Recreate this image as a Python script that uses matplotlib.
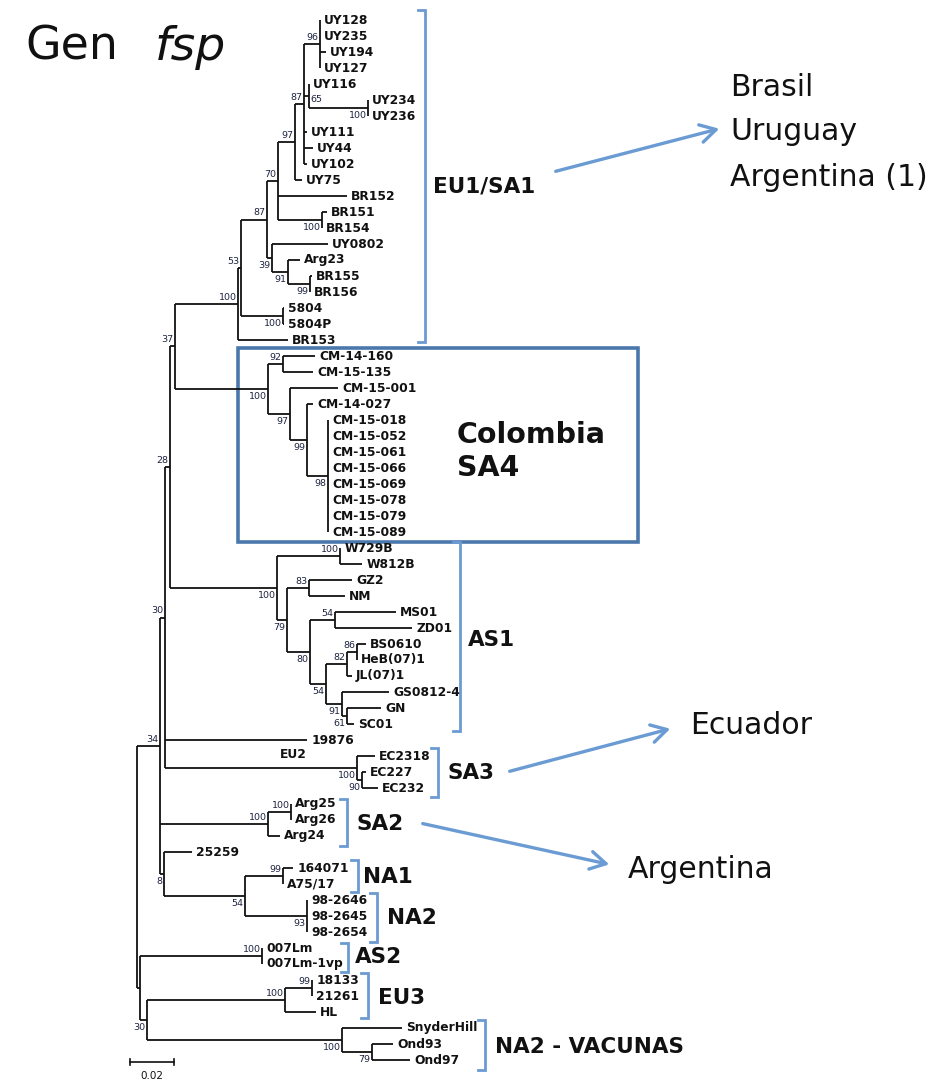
import matplotlib
matplotlib.use("Agg")
import matplotlib.pyplot as plt
from matplotlib.patches import Rectangle, FancyArrowPatch

# ---------------- data ----------------
# leaves, top to bottom; depth from root in 0.001 substitutions/site
leaf_names = ["UY128", "UY235", "UY194", "UY127", "UY116", "UY234", "UY236",
              "UY111", "UY44", "UY102", "UY75", "BR152", "BR151", "BR154",
              "UY0802", "Arg23", "BR155", "BR156", "5804", "5804P", "BR153",
              "CM-14-160", "CM-15-135", "CM-15-001", "CM-14-027",
              "CM-15-018", "CM-15-052", "CM-15-061", "CM-15-066", "CM-15-069",
              "CM-15-078", "CM-15-079", "CM-15-089",
              "W729B", "W812B", "GZ2", "NM", "MS01", "ZD01", "BS0610",
              "HeB(07)1", "JL(07)1", "GS0812-4", "GN", "SC01",
              "19876", "EC2318", "EC227", "EC232", "Arg25", "Arg26", "Arg24",
              "25259", "164071", "A75/17", "98-2646", "98-2645", "98-2654",
              "007Lm", "007Lm-1vp", "18133", "21261", "HL",
              "SnyderHill", "Ond93", "Ond97"]
leaf_depth = [83.2, 83.2, 85.9, 83.2, 78.2, 105.0, 105.0,
              77.3, 80.0, 77.3, 75.0, 95.5, 86.4, 84.1,
              86.8, 74.1, 79.5, 78.6, 66.8, 66.8, 68.6,
              80.9, 80.0, 91.4, 80.0,
              86.8, 86.8, 86.8, 86.8, 86.8, 86.8, 86.8, 86.8,
              92.3, 102.3, 97.7, 94.5, 117.7, 125.0, 104.1,
              100.0, 97.7, 114.5, 110.9, 98.6,
              77.3, 108.2, 104.1, 109.5, 70.0, 70.0, 65.0,
              25.0, 70.9, 66.4, 77.3, 77.3, 77.3,
              56.8, 56.8, 79.5, 79.5, 81.4,
              120.5, 116.4, 124.1]

# internal nodes (children listed before parents)
node_ids = ["n96", "n100a", "n65", "n87a", "n97", "n100b", "n70", "n99a", "n91a",
            "n39", "n87b", "n100c", "n53", "n100d", "n92", "n98", "n99b", "n97b",
            "n100e", "n37", "n100f", "n83", "n54a", "n86", "n82", "n61", "n91b",
            "n54b", "n80", "n79", "n100g", "n28", "n90", "n100h", "n30a",
            "n100i", "n100j", "n99c", "n93", "n54c", "n8", "n34", "n100k",
            "n99d", "n100l", "n79b", "n100m", "n30b", "nP", "root"]
node_depth = [83.2, 105.0, 78.2, 75.9, 71.8, 84.1, 64.1, 78.6, 68.6,
              61.4, 59.1, 66.4, 47.3, 45.9, 66.4, 86.8, 77.3, 69.5,
              59.5, 17.3, 92.3, 78.2, 90.0, 100.0, 95.5, 95.5, 93.2,
              85.9, 78.6, 68.2, 63.6, 15.0, 102.3, 100.0, 12.7,
              70.0, 59.5, 66.4, 77.3, 49.1, 12.3, 10.5, 56.8,
              79.5, 67.3, 106.8, 93.2, 4.5, 1.4, 0.0]
node_children = [
    ["UY128", "UY235", "UY194", "UY127"], ["UY234", "UY236"], ["UY116", "n100a"],
    ["n96", "n65", "UY111", "UY44", "UY102"], ["n87a", "UY75"], ["BR151", "BR154"],
    ["n97", "BR152", "n100b"], ["BR155", "BR156"], ["Arg23", "n99a"],
    ["UY0802", "n91a"], ["n70", "n39"], ["5804", "5804P"], ["n87b", "n100c"],
    ["n53", "BR153"], ["CM-14-160", "CM-15-135"],
    ["CM-15-018", "CM-15-052", "CM-15-061", "CM-15-066", "CM-15-069",
     "CM-15-078", "CM-15-079", "CM-15-089"],
    ["CM-14-027", "n98"], ["CM-15-001", "n99b"], ["n92", "n97b"],
    ["n100d", "n100e"], ["W729B", "W812B"], ["GZ2", "NM"], ["MS01", "ZD01"],
    ["BS0610", "HeB(07)1"], ["n86", "JL(07)1"], ["GN", "SC01"],
    ["GS0812-4", "n61"], ["n82", "n91b"], ["n54a", "n54b"], ["n83", "n80"],
    ["n100f", "n79"], ["n37", "n100g"], ["EC227", "EC232"], ["EC2318", "n90"],
    ["n28", "19876", "n100h"], ["Arg25", "Arg26"], ["n100i", "Arg24"],
    ["164071", "A75/17"], ["98-2646", "98-2645", "98-2654"], ["n99c", "n93"],
    ["25259", "n54c"], ["n30a", "n100j", "n8"], ["007Lm", "007Lm-1vp"],
    ["18133", "21261"], ["n99d", "HL"], ["Ond93", "Ond97"],
    ["SnyderHill", "n79b"], ["n100l", "n100m"], ["n100k", "n30b"],
    ["n34", "nP"]]
node_support = ["96", "100", "65", "87", "97", "100", "70", "99", "91",
                "39", "87", "100", "53", "100", "92", "98", "99", "97",
                "100", "37", "100", "83", "54", "86", "82", "61", "91",
                "54", "80", "79", "100", "28", "90", "100", "30",
                "100", "100", "99", "93", "54", "8", "34", "100",
                "99", "100", "79", "100", "30", "", ""]
# where each support value sits: a = above, b = below, r = right of node
support_side = ["a", "b", "r", "a", "a", "b", "a", "b", "b",
                "b", "a", "b", "a", "a", "a", "b", "b", "b",
                "b", "a", "a", "a", "a", "a", "a", "b", "b",
                "b", "b", "b", "b", "a", "b", "b", "a",
                "a", "a", "a", "b", "b", "b", "a", "a",
                "a", "a", "b", "b", "b", "", ""]

clade_labels = ["EU1/SA1", "AS1", "SA3", "SA2", "NA1", "NA2", "AS2", "EU3",
                "NA2 - VACUNAS"]
country_labels = ["Brasil", "Uruguay", "Argentina (1)", "Ecuador", "Argentina"]
scale_value = 20.0  # 0.02 substitutions/site

# ---------------- figure ----------------
W, H = 941, 1084
fig = plt.figure(figsize=(W / 100, H / 100), dpi=100)

ov = fig.add_axes([0, 0, 1, 1])
ov.set_xlim(0, W)
ov.set_ylim(H, 0)
ov.axis("off")

ax = fig.add_axes([0, 0, 1, 1])
ax.patch.set_alpha(0)
PX = 2.2  # pixels per 0.001 subst/site
ax.set_xlim(-137 / PX, (W - 137) / PX)
ax.set_ylim((H - 20) / 16, -20 / 16)
ax.axis("off")

LW = 1.3
LINE = "#111111"
pos = {n: (d, i) for i, (n, d) in enumerate(zip(leaf_names, leaf_depth))}
for nid, d, ch, bs, side in zip(node_ids, node_depth, node_children,
                                node_support, support_side):
    ys = [pos[c][1] for c in ch]
    y = (ys[0] + ys[-1]) / 2
    pos[nid] = (d, y)
    ax.plot([d, d], [ys[0], ys[-1]], color=LINE, lw=LW, solid_capstyle="butt")
    for c in ch:
        cx, cy = pos[c]
        if cx > d:
            ax.plot([d, cx], [cy, cy], color=LINE, lw=LW, solid_capstyle="butt")
    if bs:
        if side == "a":
            off, ha = (-1, 4.8), "right"
        elif side == "b":
            off, ha = (-1, -5.5), "right"
        else:
            off, ha = (1, -2.5), "left"
        ax.annotate(bs, (d, y), xytext=off, textcoords="offset points",
                    ha=ha, va="center", fontsize=6.8, color="#1c2340",
                    family="DejaVu Sans")

for n in leaf_names:
    x, y = pos[n]
    ax.annotate(n, (x, y), xytext=(3, 0), textcoords="offset points",
                ha="left", va="center", fontsize=8.8, fontweight="bold",
                color="#111111", family="DejaVu Sans")

# scale bar
sy = (1062 - 20) / 16
sx0 = -3.2
ax.plot([sx0, sx0 + scale_value], [sy, sy], color=LINE, lw=1.2)
for xx in (sx0, sx0 + scale_value):
    ax.plot([xx, xx], [sy - 0.2, sy + 0.2], color=LINE, lw=1.2)
ax.annotate("0.02", (sx0 + scale_value / 2, sy), xytext=(0, -10),
            textcoords="offset points", ha="center", va="center",
            fontsize=7.5, color="#111111")

# ---------------- annotations (pixel overlay) ----------------
ov.text(25, 60, "Gen", fontsize=33, family="DejaVu Sans", va="baseline",
        ha="left", color="#111111")
ov.text(155, 60, "fsp", fontsize=34, family="DejaVu Sans", style="italic",
        va="baseline", ha="left", color="#111111")

BR = "#6b9bd3"
brackets = [(425, 10, 342), (460, 542, 731), (438, 748, 797), (347, 799, 846),
            (358, 860, 892), (377, 893, 942), (348, 943, 972), (368, 973, 1018),
            (485, 1020, 1070)]
for x, y0, y1 in brackets:
    ov.plot([x - 7, x, x, x - 7], [y0, y0, y1, y1], color=BR, lw=2.0,
            solid_joinstyle="miter")

clade_pos = [(433, 187), (468, 640), (448, 773), (357, 824), (363, 877),
             (387, 918), (355, 957), (378, 998), (495, 1047)]
for (x, y), t in zip(clade_pos, clade_labels):
    ov.text(x, y, t, fontsize=15.5, fontweight="bold", ha="left",
            va="center", color="#111111", family="DejaVu Sans")

ov.add_patch(Rectangle((238, 348), 400, 194, fill=False, ec="#4a78ad", lw=2.6))
ov.text(457, 435, "Colombia", fontsize=20.5, fontweight="bold", ha="left",
        va="center", color="#111111")
ov.text(457, 468, "SA4", fontsize=20.5, fontweight="bold", ha="left",
        va="center", color="#111111")
ov.text(280, 755, "EU2", fontsize=8.8, fontweight="bold", ha="left",
        va="center", color="#111111")

country_pos = [(730, 88), (730, 131), (730, 178), (690, 725), (628, 870)]
for (x, y), t in zip(country_pos, country_labels):
    ov.text(x, y, t, fontsize=21.5, ha="left", va="center", color="#111111")

for (x0, y0), (x1, y1) in [((553, 172), (722, 128)), ((507, 772), (673, 728)),
                           ((420, 823), (612, 865))]:
    ov.add_patch(FancyArrowPatch((x0, y0), (x1, y1),
                                 arrowstyle="->,head_length=7,head_width=4",
                                 color="#6b9bd3", lw=2.4, mutation_scale=1.6))

fig.savefig("out.png", dpi=100)
